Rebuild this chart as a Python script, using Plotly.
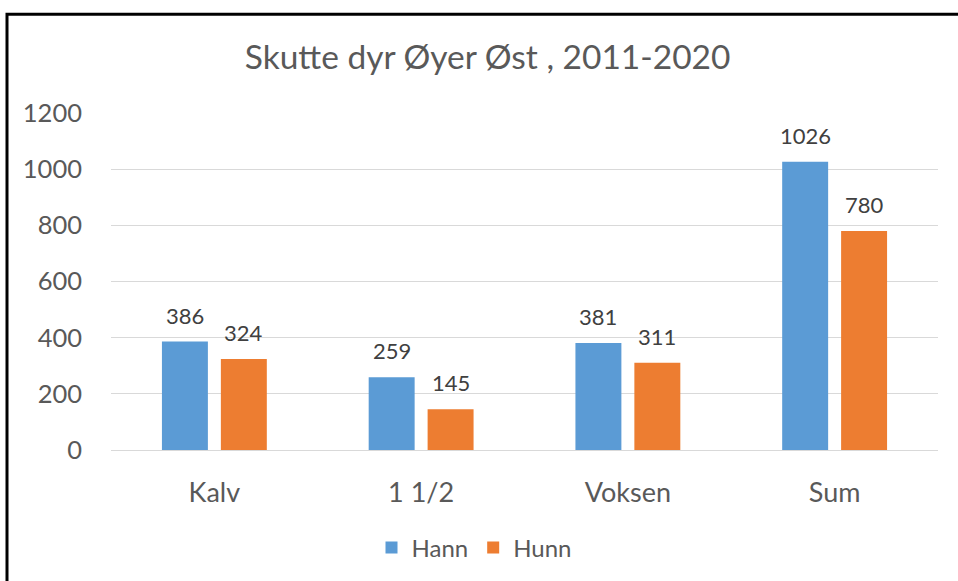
import plotly.graph_objects as go

categories = ["Kalv", "1 1/2", "Voksen", "Sum"]
hann = [386, 259, 381, 1026]
hunn = [324, 145, 311, 780]
series_names = ["Hann", "Hunn"]
colors = ["#5B9BD5", "#ED7D31"]
y_ticks = [0, 200, 400, 600, 800, 1000, 1200]

FONT = "Lato, Open Sans, sans-serif"
L, R, T, B = 111, 20, 113, 130
W, H = 958, 581
pw, ph = W - L - R, H - T - B

fig = go.Figure()
for name, vals, col in zip(series_names, [hann, hunn], colors):
    fig.add_trace(go.Bar(x=categories, y=vals, name=name, marker_color=col,
                         marker_line_width=0, hoverinfo="skip"))

# data labels above bars
slot_px = pw / len(categories) * (1 - 0.43) / 2
for i, vals in enumerate([hann, hunn]):
    shift = (i - 0.5) * slot_px
    for c, v in zip(categories, vals):
        fig.add_annotation(x=c, y=v, text=str(v), showarrow=False, xshift=shift,
                           yanchor="bottom", yshift=11,
                           font=dict(family=FONT, size=22, color="#404040"))

# outer frame (left & top edges visible)
x0 = (7 - L) / pw
ytop = (ph + T - 14) / ph
fig.add_shape(type="path", xref="paper", yref="paper",
              path=f"M {x0} -2 L {x0} {ytop} L 2 {ytop}",
              line=dict(color="black", width=3))

fig.update_layout(
    width=W, height=H,
    margin=dict(l=L, r=R, t=T, b=B, pad=0),
    paper_bgcolor="white", plot_bgcolor="white",
    barmode="group", bargap=0.43, bargroupgap=0.22,
    title=dict(text="Skutte dyr Øyer Øst , 2011-2020", x=0.509, xanchor="center",
               y=1 - 57 / H, yanchor="middle",
               font=dict(family=FONT, size=33.5, color="#595959")),
    font=dict(family=FONT, size=24, color="#595959"),
    legend=dict(orientation="h", x=(474 - L) / pw, xanchor="center",
                y=(ph + T - 548) / ph, yanchor="middle",
                font=dict(family=FONT, size=24, color="#595959"),
                itemwidth=30, traceorder="normal"),
    showlegend=True,
)
fig.update_yaxes(range=[0, 1200], tickvals=y_ticks, showgrid=True,
                 gridcolor="#D9D9D9", gridwidth=1.3, zeroline=False,
                 showline=False, ticks="", ticklabelstandoff=28,
                 tickfont=dict(family=FONT, size=25.5, color="#595959"))
fig.update_xaxes(showgrid=False, showline=True, linecolor="#D9D9D9", linewidth=1.3,
                 ticks="", ticklabelstandoff=18,
                 tickfont=dict(family=FONT, size=27, color="#595959"))

fig.write_html("out.html", config={"displayModeBar": False},
               post_script="document.body.style.margin='0';document.body.style.overflow='hidden';")
